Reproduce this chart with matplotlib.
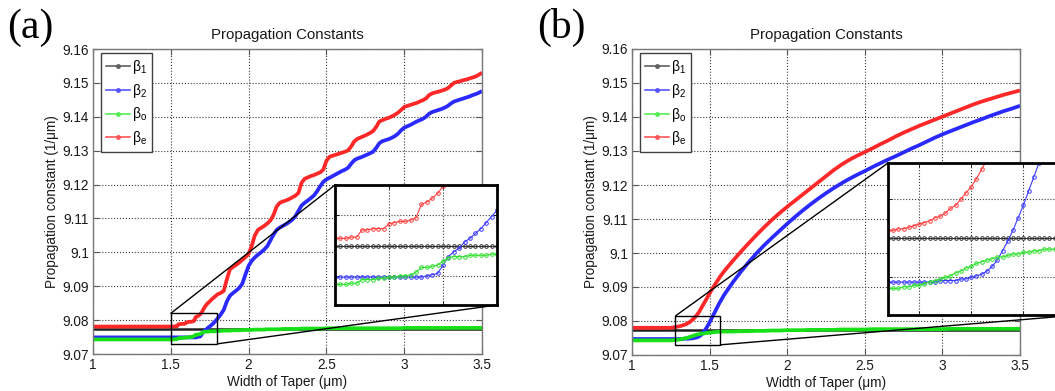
import numpy as np
import matplotlib
matplotlib.use('Agg')
import matplotlib.pyplot as plt
from matplotlib.patches import Rectangle, ConnectionPatch
from matplotlib.lines import Line2D

plt.rcParams['font.family'] = ['Liberation Sans', 'DejaVu Sans']
plt.rcParams['mathtext.fontset'] = 'custom'
plt.rcParams['mathtext.rm'] = 'Liberation Sans'
plt.rcParams['mathtext.it'] = 'Liberation Sans'

# ---------------- data, panel (a) ----------------
# sample positions: coarse at start, 0.01 in the zoomed window, 0.02 after
xa = np.round(np.concatenate([np.arange(1.0, 1.45, 0.1),
                              np.arange(1.50, 1.805, 0.01),
                              np.arange(1.82, 3.505, 0.02)]), 2)

beta1_a = 9.0775

beta2_a = [9.0749, 9.0749, 9.0749, 9.0749, 9.0749,
           # 1.50 - 1.80
           9.0749, 9.0749, 9.0749, 9.0749, 9.0749, 9.0749, 9.0749, 9.0749, 9.0749, 9.0749,
           9.0749, 9.0749, 9.0749, 9.0749, 9.0749, 9.0749, 9.0749, 9.0750, 9.0751, 9.0752,
           9.0759, 9.0766, 9.0770, 9.0773, 9.0778, 9.0781, 9.0785, 9.0789, 9.0794, 9.0799,
           9.0804,
           # 1.82 - 3.50
           9.0816, 9.0830, 9.0855, 9.0872, 9.0880, 9.0887, 9.0895, 9.0908, 9.0935, 9.0960,
           9.0975, 9.0985, 9.0993, 9.1000, 9.1008, 9.1018, 9.1035, 9.1052, 9.1066, 9.1073,
           9.1078, 9.1083, 9.1089, 9.1096, 9.1106, 9.1122, 9.1138, 9.1146, 9.1153, 9.1160,
           9.1168, 9.1180, 9.1195, 9.1208, 9.1215, 9.1220, 9.1225, 9.1230, 9.1235, 9.1240,
           9.1244, 9.1250, 9.1262, 9.1272, 9.1277, 9.1280, 9.1284, 9.1288, 9.1292, 9.1297,
           9.1308, 9.1322, 9.1328, 9.1331, 9.1334, 9.1338, 9.1343, 9.1350, 9.1360, 9.1368,
           9.1372, 9.1376, 9.1381, 9.1386, 9.1390, 9.1394, 9.1400, 9.1409, 9.1414, 9.1417,
           9.1420, 9.1423, 9.1427, 9.1432, 9.1439, 9.1445, 9.1448, 9.1451, 9.1454, 9.1457,
           9.1460, 9.1464, 9.1467, 9.1471, 9.1476]

betao_a = [9.0743, 9.0743, 9.0743, 9.0743, 9.0743,
           9.0743, 9.0743, 9.0743, 9.0744, 9.0744, 9.0747, 9.0747, 9.0747, 9.0748, 9.0748,
           9.0749, 9.0749, 9.0750, 9.0750, 9.0751, 9.0753, 9.0757, 9.0757, 9.0758, 9.0759,
           9.0762, 9.0765, 9.0766, 9.0766, 9.0766, 9.0767, 9.0767, 9.0767, 9.0767, 9.0768,
           9.0768,
           9.0768, 9.0769, 9.0769, 9.0769, 9.0770, 9.0770, 9.0770, 9.0771, 9.0771, 9.0771,
           9.0771, 9.0772, 9.0772, 9.0772, 9.0772, 9.0773, 9.0773, 9.0773, 9.0773, 9.0773,
           9.0774, 9.0774, 9.0774, 9.0774, 9.0774, 9.0774, 9.0775, 9.0775, 9.0775, 9.0775,
           9.0775, 9.0775, 9.0775, 9.0775, 9.0776, 9.0776, 9.0776, 9.0776, 9.0776, 9.0776,
           9.0776, 9.0776, 9.0776, 9.0776, 9.0776, 9.0776, 9.0776, 9.0776, 9.0776, 9.0776,
           9.0776, 9.0776, 9.0776, 9.0776, 9.0776, 9.0776, 9.0776, 9.0776, 9.0776, 9.0777,
           9.0777, 9.0777, 9.0777, 9.0777, 9.0777, 9.0777, 9.0777, 9.0777, 9.0777, 9.0777,
           9.0777, 9.0777, 9.0777, 9.0777, 9.0777, 9.0777, 9.0777, 9.0777, 9.0777, 9.0777,
           9.0777, 9.0777, 9.0777, 9.0777, 9.0777]

betae_a = [9.0781, 9.0781, 9.0781, 9.0781, 9.0781,
           9.0781, 9.0781, 9.0781, 9.0782, 9.0782, 9.0788, 9.0788, 9.0789, 9.0789, 9.0789,
           9.0793, 9.0794, 9.0795, 9.0795, 9.0796, 9.0798, 9.0809, 9.0811, 9.0814, 9.0818,
           9.0824, 9.0832, 9.0840, 9.0846, 9.0851, 9.0855, 9.0860, 9.0864, 9.0868, 9.0872,
           9.0876,
           9.0880, 9.0886, 9.0920, 9.0950, 9.0957, 9.0963, 9.0970, 9.0978, 9.0986, 9.0995,
           9.1019, 9.1050, 9.1066, 9.1072, 9.1078, 9.1085, 9.1094, 9.1110, 9.1135, 9.1146,
           9.1150, 9.1153, 9.1157, 9.1162, 9.1167, 9.1175, 9.1205, 9.1217, 9.1221, 9.1225,
           9.1228, 9.1232, 9.1236, 9.1244, 9.1270, 9.1282, 9.1285, 9.1288, 9.1291, 9.1294,
           9.1297, 9.1301, 9.1313, 9.1328, 9.1335, 9.1339, 9.1343, 9.1347, 9.1352, 9.1358,
           9.1370, 9.1386, 9.1390, 9.1394, 9.1397, 9.1401, 9.1406, 9.1412, 9.1420, 9.1429,
           9.1432, 9.1435, 9.1438, 9.1441, 9.1445, 9.1449, 9.1454, 9.1464, 9.1469, 9.1472,
           9.1474, 9.1477, 9.1480, 9.1484, 9.1492, 9.1500, 9.1503, 9.1505, 9.1508, 9.1510,
           9.1513, 9.1516, 9.1519, 9.1524, 9.1530]

# ---------------- data, panel (b) ----------------
xb = np.round(np.concatenate([np.arange(1.0, 1.21, 0.05),
                              np.arange(1.24, 1.605, 0.01),
                              np.arange(1.65, 3.505, 0.05)]), 2)

beta1_b = 9.0775

beta2_b = [9.0747, 9.0747, 9.0747, 9.0747, 9.0747,
           # 1.24 - 1.60
           9.0747, 9.0747, 9.0747, 9.0747, 9.0747, 9.0747, 9.0747, 9.0747, 9.0747, 9.0747,
           9.0748, 9.0748, 9.0748, 9.0748, 9.0749, 9.0749, 9.0750, 9.0751, 9.0752, 9.0754,
           9.0757, 9.0761, 9.0767, 9.0773, 9.0780, 9.0788, 9.0796, 9.0805, 9.0814, 9.0823,
           9.0832, 9.0841, 9.0850, 9.0858, 9.0866, 9.0874, 9.0881,
           # 1.65 - 3.50
           9.0914, 9.0944, 9.0972, 9.0998, 9.1022, 9.1044, 9.1065, 9.1086, 9.1106, 9.1125,
           9.1143, 9.1160, 9.1176, 9.1191, 9.1205, 9.1218, 9.1230, 9.1241, 9.1253, 9.1264,
           9.1275, 9.1285, 9.1296, 9.1307, 9.1317, 9.1328, 9.1339, 9.1349, 9.1358, 9.1367,
           9.1376, 9.1385, 9.1393, 9.1402, 9.1410, 9.1418, 9.1425, 9.1433]

betao_b = [9.0743, 9.0743, 9.0743, 9.0743, 9.0743,
           9.0743, 9.0743, 9.0743, 9.0744, 9.0744, 9.0745, 9.0745, 9.0746, 9.0747, 9.0748,
           9.0749, 9.0750, 9.0751, 9.0753, 9.0754, 9.0756, 9.0757, 9.0759, 9.0760, 9.0761,
           9.0762, 9.0763, 9.0763, 9.0764, 9.0765, 9.0765, 9.0766, 9.0766, 9.0767, 9.0767,
           9.0768, 9.0768, 9.0768, 9.0769, 9.0769, 9.0769, 9.0769,
           9.0769, 9.0770, 9.0770, 9.0771, 9.0771, 9.0772, 9.0772, 9.0773, 9.0773, 9.0773,
           9.0774, 9.0774, 9.0774, 9.0774, 9.0775, 9.0775, 9.0775, 9.0775, 9.0776, 9.0776,
           9.0776, 9.0776, 9.0776, 9.0776, 9.0776, 9.0776, 9.0776, 9.0776, 9.0777, 9.0777,
           9.0777, 9.0777, 9.0777, 9.0777, 9.0777, 9.0777, 9.0777, 9.0777]

betae_b = [9.0780, 9.0780, 9.0780, 9.0780, 9.0780,
           9.0780, 9.0780, 9.0781, 9.0781, 9.0782, 9.0783, 9.0784, 9.0785, 9.0786, 9.0788,
           9.0789, 9.0791, 9.0794, 9.0796, 9.0800, 9.0804, 9.0808, 9.0813, 9.0819, 9.0825,
           9.0833, 9.0841, 9.0849, 9.0857, 9.0865, 9.0873, 9.0881, 9.0889, 9.0897, 9.0904,
           9.0911, 9.0918, 9.0925, 9.0932, 9.0938, 9.0944, 9.0950,
           9.0977, 9.1003, 9.1028, 9.1052, 9.1075, 9.1097, 9.1117, 9.1136, 9.1154, 9.1172,
           9.1190, 9.1208, 9.1226, 9.1244, 9.1260, 9.1274, 9.1286, 9.1297, 9.1308, 9.1320,
           9.1331, 9.1343, 9.1354, 9.1364, 9.1374, 9.1383, 9.1392, 9.1401, 9.1410, 9.1419,
           9.1428, 9.1437, 9.1445, 9.1452, 9.1459, 9.1466, 9.1472, 9.1478]

legend_labels = ['\u03b2$_1$', '\u03b2$_2$', '\u03b2$_\\mathrm{o}$', '\u03b2$_\\mathrm{e}$']
xtick_vals = [1, 1.5, 2, 2.5, 3, 3.5]
xtick_labels = ['1', '1.5', '2', '2.5', '3', '3.5']
ytick_vals = [9.07, 9.08, 9.09, 9.10, 9.11, 9.12, 9.13, 9.14, 9.15, 9.16]
ytick_labels = ['9.07', '9.08', '9.09', '9.1', '9.11', '9.12', '9.13', '9.14', '9.15', '9.16']

main_cols = ['#1e1e1e', '#2a2aff', '#18e018', '#ff2828']
ins_cols = ['#303030', '#3a3aff', '#30e030', '#ff4040']
leg_cols = ['#606060', '#5555ff', '#55ee55', '#ff5555']

W, H = 1055, 391
fig = plt.figure(figsize=(W / 100, H / 100), dpi=100)


def px_box(l, t, r, b):
    return [l / W, 1 - b / H, (r - l) / W, (b - t) / H]


def panel(rect, x, b1, b2, bo, be, box, ins_rect, ins_xlim, ins_ylim, ins_xt, tag, tag_x):
    ax = fig.add_axes(px_box(*rect))
    ys = [[b1] * len(x), b2, bo, be]
    widths = [1.8, 2.7, 2.7, 2.7]
    for y, c, w in zip(ys, main_cols, widths):
        ax.plot(x, y, color=c, lw=w, solid_capstyle='butt')
    ax.set_xlim(1, 3.5)
    ax.set_ylim(9.07, 9.16)
    ax.set_xticks(xtick_vals)
    ax.set_xticklabels(xtick_labels)
    ax.set_yticks(ytick_vals)
    ax.set_yticklabels(ytick_labels)
    ax.tick_params(direction='in', length=4, width=0.8, color='#555555',
                   labelsize=9.8, labelcolor='#1a1a1a', top=True, right=True, pad=3)
    ax.grid(True, ls=':', color='#3a3a3a', lw=0.8)
    for s in ax.spines.values():
        s.set_color('#777777')
        s.set_linewidth(1.0)
    ax.set_title('Propagation Constants', fontsize=10.8, pad=7, color='#1a1a1a')
    ax.set_xlabel('Width of Taper (\u03bcm)', fontsize=9.8, color='#1a1a1a')
    ax.set_ylabel('Propagation constant (1/\u03bcm)', fontsize=9.8, color='#1a1a1a')
    ax.xaxis.set_label_coords(0.5, -0.068)
    ax.yaxis.set_label_coords(-0.088, 0.5)

    handles = [Line2D([], [], color=c, lw=1.2, marker='.', ms=5) for c in leg_cols]
    leg = ax.legend(handles, legend_labels, loc='upper left',
                    bbox_to_anchor=(0.02, 0.987), borderaxespad=0, numpoints=1,
                    fontsize=10, handlelength=1.75, handletextpad=0.15,
                    labelspacing=0.42, borderpad=0.35, fancybox=False, framealpha=1)
    leg.get_frame().set_edgecolor('#404040')
    leg.get_frame().set_linewidth(1.0)

    # zoom box on the main axes
    x0, x1, y0, y1 = box
    ax.add_patch(Rectangle((x0, y0), x1 - x0, y1 - y0, fill=False,
                           ec='black', lw=1.0, zorder=5))

    axi = fig.add_axes(px_box(*ins_rect))
    for y, c in zip(ys, ins_cols):
        axi.plot(x, y, color=c, lw=0.8, marker='o', ms=2.6, mew=0.7,
                 mfc='none')
    axi.set_xlim(*ins_xlim)
    axi.set_ylim(*ins_ylim)
    axi.set_xticks(ins_xt)
    axi.set_yticks([9.075, 9.08])
    axi.set_xticklabels([])
    axi.set_yticklabels([])
    axi.tick_params(direction='in', length=3, width=0.6, top=True, right=True)
    axi.grid(True, ls=':', color='#3a3a3a', lw=0.8)
    for s in axi.spines.values():
        s.set_color('black')
        s.set_linewidth(2.0)

    for pa, pb in [((x0, y1), (0, 1)), ((x1, y0), (1, 0))]:
        con = ConnectionPatch(xyA=pa, coordsA=ax.transData,
                              xyB=pb, coordsB=axi.transAxes,
                              color='black', lw=1.0)
        fig.add_artist(con)

    fig.text(tag_x / W, 1 - 38 / H, tag, family=['Liberation Serif', 'DejaVu Serif'],
             fontsize=30, va='baseline', ha='left', color='black')


panel((93, 49, 482, 354), xa, beta1_a, beta2_a, betao_a, betae_a,
      (1.5, 1.8, 9.073, 9.082), (335, 185, 497, 305),
      (1.5, 1.8), (9.0726, 9.0825), [1.6, 1.7], '(a)', 7)

panel((632, 49, 1020, 355), xb, beta1_b, beta2_b, betao_b, betae_b,
      (1.28, 1.57, 9.073, 9.0815), (888, 163, 1078, 315),
      (1.24, 1.605), (9.0726, 9.0823), [1.3, 1.4, 1.5], '(b)', 537)

fig.savefig('out.png', dpi=100)
